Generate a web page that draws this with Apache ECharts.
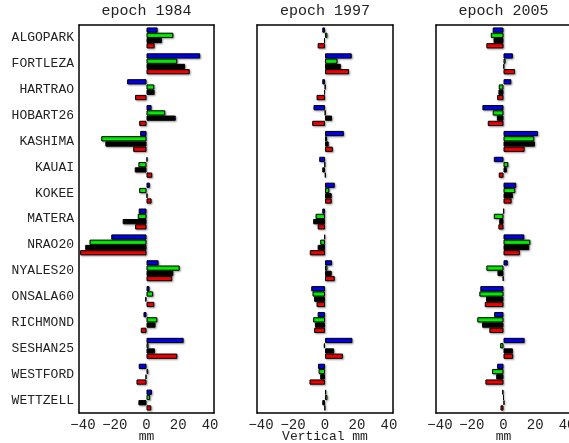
<!DOCTYPE html>
<html>
<head>
<meta charset="utf-8">
<script src="https://cdn.jsdelivr.net/npm/echarts@6/dist/echarts.min.js"></script>
<style>
    html, body { margin: 0; padding: 0; background: #fff; }
    #chart { width: 569px; height: 443px; }
</style>
</head>
<body>
<div id="chart"></div>
<script>
    const stations = ['ALGOPARK', 'FORTLEZA', 'HARTRAO', 'HOBART26', 'KASHIMA', 'KAUAI', 'KOKEE', 'MATERA',
        'NRAO20', 'NYALES20', 'ONSALA60', 'RICHMOND', 'SESHAN25', 'WESTFORD', 'WETTZELL'];
    const epochs = ['epoch 1984', 'epoch 1997', 'epoch 2005'];
    const axisNames = ['mm', 'Vertical mm', 'mm'];
    const xTicks = [-40, -20, 0, 20, 40];

    // epoch 1984
    const blue1984 = [7.0, 33.8, -12.2, 3.2, -4.0, 0.6, 2.1, -4.9, -22.2, 7.6, 1.9, -1.9, 23.4, -4.9, 3.4];
    const green1984 = [16.9, 19.4, 4.9, 11.8, -28.5, -5.1, -4.6, -5.5, -35.9, 20.9, 4.2, 6.8, 1.3, 1.1, 2.3];
    const black1984 = [9.7, 24.3, 5.1, 18.4, -25.9, -7.4, 0.6, -15.0, -38.6, 16.9, -0.8, 5.7, 5.3, -0.6, -5.1];
    const red1984 = [5.1, 27.2, -7.2, -4.6, -8.4, 3.6, 3.2, -7.2, -41.8, 16.2, 4.9, -3.6, 19.4, -6.3, 3.0];

    // epoch 1997
    const blue1997 = [-1.7, 16.7, -1.7, -7.2, 11.8, -3.6, 6.1, -1.7, -0.4, 4.4, -8.6, -4.6, 17.1, -4.4, 0.8];
    const green1997 = [1.5, 7.8, 0.2, 0.2, 1.3, -0.2, 2.7, -5.9, -3.0, 1.5, -7.8, -7.4, -0.8, -4.0, 1.5];
    const black1997 = [-0.6, 9.9, -0.6, 4.4, 2.3, -1.7, 4.2, -7.4, -4.6, 4.2, -6.8, -6.3, 5.7, -3.0, -1.7];
    const red1997 = [-4.6, 15.0, -5.3, -8.0, 4.9, 0.4, 4.2, -4.6, -9.5, 6.1, -5.3, -6.8, 11.2, -9.7, -0.2];

    // epoch 2005
    const blue2005 = [-6.8, 5.9, 4.9, -13.3, 21.7, -6.1, 8.0, 0.2, 13.1, 2.7, -14.6, -5.9, 13.3, -4.0, -0.8];
    const green2005 = [-8.0, 1.3, -3.0, -6.8, 19.4, 3.0, 7.4, -6.1, 16.9, -10.8, -15.2, -16.5, -2.1, -7.2, 0];
    const black2005 = [-6.3, 0.4, -3.2, -4.2, 19.8, 2.1, 5.9, -2.7, 16.2, -3.8, -11.0, -13.5, 5.9, -4.6, 0.6];
    const red2005 = [-10.8, 7.2, -4.0, -9.9, 13.3, -3.0, 5.1, -3.2, 10.3, -0.4, -11.8, -8.9, 6.1, -11.4, -1.9];

    const panels = [
        [blue1984, green1984, black1984, red1984],
        [blue1997, green1997, black1997, red1997],
        [blue2005, green2005, black2005, red2005]
    ];
    const colors = ['#0000ff', '#00ff00', '#000000', '#ff0000'];

    const font = 'Liberation Mono';
    const lefts = [79, 257, 436];
    const widths = [135, 136, 135];

    let grids = [], xAxes = [], yAxes = [], series = [];
    lefts.forEach(function (left, i) {
        grids.push({left: left, top: 25, width: widths[i], height: 388, outerBoundsMode: 'none', containLabel: false});
        let line = {show: true, onZero: false, lineStyle: {color: '#000', width: 1.5}};
        let valueAxis = {
            type: 'value', gridIndex: i, min: -42.5, max: 42.5,
            minInterval: 20, maxInterval: 20, splitNumber: 4,
            axisLine: line, splitLine: {show: false},
            axisTick: {inside: true, length: 3, lineStyle: {color: '#000'}}
        };
        // bottom axis with labels
        xAxes.push(Object.assign({}, valueAxis, {
            position: 'bottom',
            name: axisNames[i], nameLocation: 'middle', nameGap: 17, nameMoveOverlap: false,
            nameTextStyle: {fontFamily: font, fontSize: 13, color: '#222'},
            axisLabel: {
                fontFamily: font, fontSize: 14, color: '#222', margin: 5,
                showMinLabel: false, showMaxLabel: false,
                formatter: function (v) {
                    return xTicks.indexOf(v) >= 0 ? String(v).replace('-', '\u2212') : '';
                }
            }
        }));
        // top axis carries the title
        xAxes.push(Object.assign({}, valueAxis, {
            position: 'top',
            name: epochs[i], nameLocation: 'middle', nameGap: 6, nameMoveOverlap: false,
            nameTextStyle: {fontFamily: font, fontSize: 15, color: '#222'},
            axisLabel: {show: false}
        }));
        let catAxis = {
            type: 'category', gridIndex: i, data: stations, inverse: true,
            axisLine: line,
            axisTick: {inside: true, length: 4, alignWithLabel: true, lineStyle: {color: '#000'}}
        };
        yAxes.push(Object.assign({}, catAxis, {
            position: 'left',
            axisLabel: {show: i === 0, fontFamily: font, fontSize: 13, color: '#222', margin: 5}
        }));
        yAxes.push(Object.assign({}, catAxis, {position: 'right', axisLabel: {show: false}}));

        panels[i].forEach(function (vals, k) {
            series.push({
                type: 'bar',
                xAxisIndex: i * 2,
                yAxisIndex: i * 2,
                data: vals,
                barGap: '0%',
                barCategoryGap: '19%',
                itemStyle: {
                    color: colors[k], borderColor: '#000', borderWidth: 1,
                    shadowColor: 'rgba(0,0,0,0.35)', shadowBlur: 2, shadowOffsetX: 1, shadowOffsetY: 1
                },
                silent: true,
                animation: false
            });
        });
    });

    let chart = echarts.init(document.getElementById('chart'));
    chart.setOption({
        backgroundColor: '#fff',
        animation: false,
        grid: grids,
        xAxis: xAxes,
        yAxis: yAxes,
        series: series
    });
</script>
</body>
</html>
